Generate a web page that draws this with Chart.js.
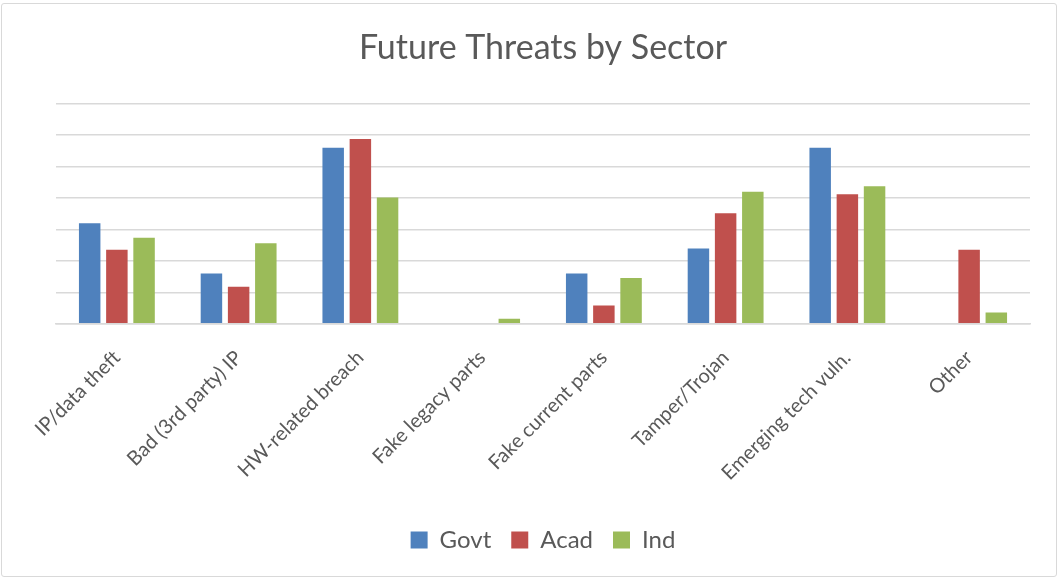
<!DOCTYPE html>
<html>
<head>
<meta charset="utf-8">
<script src="https://cdn.jsdelivr.net/npm/chart.js@4/dist/chart.umd.min.js"></script>
<style>
    html, body { margin: 0; padding: 0; background: #ffffff; }
    #wrap {
        position: absolute; left: 1px; top: 3px;
        width: 1056px; height: 574px;
        border: 1px solid #d9d9d9; border-radius: 3px;
        box-sizing: border-box;
    }
</style>
</head>
<body>
<div id="wrap"><canvas id="threatChart"></canvas></div>
<script>
// categories and shares (%) per sector
const categories = ['IP/data theft', 'Bad (3rd party) IP', 'HW-related breach', 'Fake legacy parts',
    'Fake current parts', 'Tamper/Trojan', 'Emerging tech vuln.', 'Other'];
const govt = [16, 8, 28, 0, 8, 12, 28, 0];
const acad = [11.8, 5.9, 29.4, 0, 2.9, 17.6, 20.6, 11.8];
const ind = [13.7, 12.8, 20.1, 0.8, 7.3, 21.0, 21.9, 1.8];
const yMax = 35;
const yStep = 5;

const textColor = '#595959';
const fontFamily = "Lato, 'Open Sans', sans-serif";

document.addEventListener('DOMContentLoaded', function () {
    const ctx = document.getElementById('threatChart').getContext('2d');
    const bar = (label, data, color) => ({
        label: label,
        data: data,
        backgroundColor: color,
        borderWidth: 0,
        categoryPercentage: 0.67,
        barPercentage: 0.79,
    });
    new Chart(ctx, {
        type: 'bar',
        data: {
            labels: categories,
            datasets: [
                bar('Govt', govt, '#4f81bd'),
                bar('Acad', acad, '#c0504d'),
                bar('Ind', ind, '#9bbb59'),
            ]
        },
        options: {
            responsive: true,
            maintainAspectRatio: false,
            animation: false,
            layout: {
                padding: {left: 54, right: 26, top: 10, bottom: 14}
            },
            plugins: {
                title: {
                    display: true,
                    text: 'Future Threats by Sector',
                    color: textColor,
                    font: {size: 34, family: fontFamily, weight: 'normal'},
                    padding: {top: 14, bottom: 35}
                },
                legend: {
                    display: true,
                    position: 'bottom',
                    labels: {
                        color: textColor,
                        font: {size: 24, family: fontFamily},
                        boxWidth: 17,
                        boxHeight: 17,
                        padding: 20,
                    }
                },
                tooltip: {enabled: false}
            },
            scales: {
                x: {
                    grid: {display: false},
                    border: {color: '#d9d9d9', width: 1.5},
                    ticks: {
                        color: textColor,
                        font: {size: 20, family: fontFamily},
                        minRotation: 45,
                        maxRotation: 45,
                        padding: 14,
                    },
                    // extra room between the labels and the legend
                    afterFit: function (scale) { scale.height += 9; }
                },
                y: {
                    min: 0,
                    max: yMax,
                    grid: {color: '#d9d9d9', lineWidth: 1.5, drawTicks: false},
                    border: {display: false},
                    ticks: {display: false, stepSize: yStep}
                }
            }
        }
    });
});
</script>
</body>
</html>
